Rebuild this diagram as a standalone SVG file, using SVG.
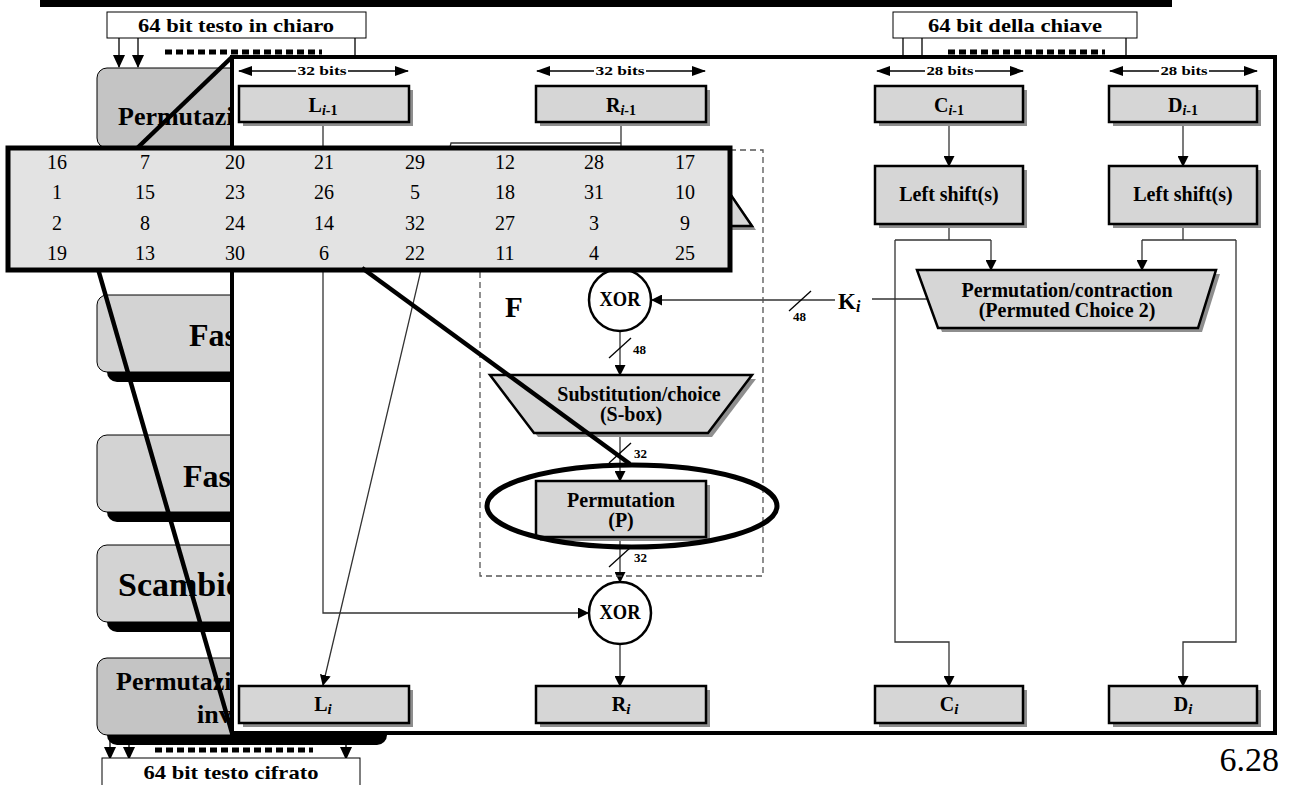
<svg xmlns="http://www.w3.org/2000/svg" width="1292" height="785" viewBox="0 0 1292 785">
<style>
 text{font-family:"Liberation Serif","Times New Roman",serif;fill:#000}
 .lbl{font-weight:bold;font-size:20px;text-anchor:middle}
 .big{font-weight:bold}
 .ln{stroke:#333;stroke-width:1.3;fill:none}
 .bk{stroke:#000;stroke-width:1.3;fill:none}
 .box{fill:#d6d6d6;stroke:#000;stroke-width:2.5}
 .shd{fill:#8e8e8e}
 .lb1{fill:#c4c4c4;stroke:#000;stroke-width:1}
 .lb2{fill:#d3d3d3;stroke:#000;stroke-width:1}
 .lsh{fill:#000}
 .thick{stroke:#000;stroke-width:4.5;fill:none}
 .dots{stroke:#000;stroke-width:5;stroke-dasharray:7,4;fill:none}
 .num{font-size:20px;text-anchor:middle}
 .io{fill:#fff;stroke:#000;stroke-width:1}
 .xor{fill:#fff;stroke:#000;stroke-width:2.5}
 .sm{font-weight:bold;font-size:13px}
</style>
<defs>
 <marker id="ah" markerWidth="11" markerHeight="11" refX="10" refY="5.5" orient="auto" markerUnits="userSpaceOnUse"><path d="M0,0 L11,5.5 L0,11 z" fill="#000"/></marker>
 <marker id="ahb" markerWidth="13" markerHeight="12" refX="12" refY="6" orient="auto" markerUnits="userSpaceOnUse"><path d="M0,0 L13,6 L0,12 z" fill="#000"/></marker>
 <marker id="ahw" markerWidth="14" markerHeight="10" refX="13" refY="5" orient="auto-start-reverse" markerUnits="userSpaceOnUse"><path d="M0,0 L14,5 L0,10 z" fill="#000"/></marker>
</defs>

<!-- top bar -->
<rect x="40" y="0" width="1132" height="7" fill="#000"/>

<!-- input/output boxes -->
<g id="plaintext">
 <rect class="io" x="107" y="12" width="259" height="26"/>
 <text x="236" y="32" class="big" font-size="19" text-anchor="middle" textLength="196" lengthAdjust="spacingAndGlyphs">64 bit testo in chiaro</text>
</g>
<g id="key">
 <rect class="io" x="893" y="12" width="244" height="26"/>
 <text x="1015" y="32" class="big" font-size="19" text-anchor="middle" textLength="174" lengthAdjust="spacingAndGlyphs">64 bit della chiave</text>
</g>

<!-- left column -->
<g id="ip">
 <rect class="lsh" x="107" y="78" width="280" height="80" rx="10"/>
 <rect class="lb1" x="97" y="68" width="280" height="80" rx="10"/>
 <text x="118" y="125" class="big" font-size="26">Permutazi</text>
</g>
<g id="fase1">
 <rect class="lsh" x="107" y="305" width="280" height="77" rx="10"/>
 <rect class="lb2" x="97" y="295" width="280" height="77" rx="10"/>
 <text x="189" y="346" class="big" font-size="32">Fas</text>
</g>
<g id="fase16">
 <rect class="lsh" x="107" y="445" width="280" height="77" rx="10"/>
 <rect class="lb2" x="97" y="435" width="280" height="77" rx="10"/>
 <text x="183" y="487" class="big" font-size="32">Fas</text>
</g>
<g id="scambio">
 <rect class="lsh" x="107" y="555" width="280" height="77" rx="10"/>
 <rect class="lb2" x="97" y="545" width="280" height="77" rx="10"/>
 <text x="118" y="596" class="big" font-size="34">Scambio</text>
</g>
<g id="ipinv">
 <rect class="lsh" x="107" y="668" width="280" height="77" rx="10"/>
 <rect class="lb1" x="97" y="658" width="280" height="77" rx="10"/>
 <text x="116" y="690" class="big" font-size="26">Permutazi</text>
 <text x="197" y="723" class="big" font-size="26">inv</text>
</g>

<g id="io-connectors">
 <line class="bk" x1="119" y1="38" x2="119" y2="67" marker-end="url(#ahb)"/>
 <line class="bk" x1="138" y1="38" x2="138" y2="67" marker-end="url(#ahb)"/>
 <line class="bk" x1="355" y1="38" x2="355" y2="67" marker-end="url(#ahb)"/>
 <line class="dots" x1="165" y1="52" x2="322" y2="52"/>
 <line class="bk" x1="903" y1="38" x2="903" y2="70"/>
 <line class="bk" x1="922" y1="38" x2="922" y2="70"/>
 <line class="bk" x1="1126" y1="38" x2="1126" y2="70"/>
 <line class="dots" x1="948" y1="52" x2="1105" y2="52"/>
 <line class="bk" x1="110" y1="735" x2="110" y2="759" marker-end="url(#ahb)"/>
 <line class="bk" x1="129" y1="735" x2="129" y2="759" marker-end="url(#ahb)"/>
 <line class="bk" x1="346" y1="735" x2="346" y2="759" marker-end="url(#ahb)"/>
 <line class="dots" x1="155" y1="750" x2="313" y2="750"/>
</g>
<g id="ciphertext">
 <rect class="io" x="102" y="758" width="258" height="30"/>
 <text x="231" y="779" class="big" font-size="19" text-anchor="middle" textLength="175" lengthAdjust="spacingAndGlyphs">64 bit testo cifrato</text>
</g>

<!-- round frame -->
<rect id="frame" x="232" y="57" width="1043" height="676" fill="#fff" stroke="#000" stroke-width="4"/>

<!-- width indicators -->
<g id="widths">
 <line class="bk" x1="239" y1="71" x2="296" y2="71" marker-start="url(#ahw)"/>
 <line class="bk" x1="348" y1="71" x2="408" y2="71" marker-end="url(#ahw)"/>
 <text x="322" y="75" class="sm" text-anchor="middle" textLength="49" lengthAdjust="spacingAndGlyphs">32 bits</text>
 <line class="bk" x1="537" y1="71" x2="594" y2="71" marker-start="url(#ahw)"/>
 <line class="bk" x1="646" y1="71" x2="705" y2="71" marker-end="url(#ahw)"/>
 <text x="620" y="75" class="sm" text-anchor="middle" textLength="49" lengthAdjust="spacingAndGlyphs">32 bits</text>
 <line class="bk" x1="877" y1="71" x2="925" y2="71" marker-start="url(#ahw)"/>
 <line class="bk" x1="975" y1="71" x2="1023" y2="71" marker-end="url(#ahw)"/>
 <text x="950" y="75" class="sm" text-anchor="middle" textLength="47" lengthAdjust="spacingAndGlyphs">28 bits</text>
 <line class="bk" x1="1110" y1="71" x2="1159" y2="71" marker-start="url(#ahw)"/>
 <line class="bk" x1="1209" y1="71" x2="1257" y2="71" marker-end="url(#ahw)"/>
 <text x="1184" y="75" class="sm" text-anchor="middle" textLength="47" lengthAdjust="spacingAndGlyphs">28 bits</text>
</g>

<!-- connectors inside the round -->
<g id="connectors">
 <polyline class="ln" points="323,122 323,613 588,613" marker-end="url(#ah)"/>
 <line class="ln" x1="621" y1="122" x2="621" y2="160"/>
 <polyline class="ln" points="621,143 451,143 323,685" marker-end="url(#ah)"/>
 <line class="ln" x1="620" y1="226" x2="620" y2="268" marker-end="url(#ah)"/>
 <line class="ln" x1="620" y1="331" x2="620" y2="375" marker-end="url(#ah)"/>
 <line class="bk" x1="609" y1="358" x2="631" y2="338"/>
 <line class="ln" x1="620" y1="433" x2="620" y2="481" marker-end="url(#ah)"/>
 <line class="bk" x1="609" y1="463" x2="631" y2="443"/>
 <line class="ln" x1="620" y1="537" x2="620" y2="582" marker-end="url(#ah)"/>
 <line class="bk" x1="609" y1="567" x2="631" y2="547"/>
 <line class="ln" x1="620" y1="644" x2="620" y2="686" marker-end="url(#ah)"/>
 <line class="ln" x1="949" y1="122" x2="949" y2="166" marker-end="url(#ah)"/>
 <line class="ln" x1="1183" y1="122" x2="1183" y2="166" marker-end="url(#ah)"/>
 <line class="ln" x1="949" y1="224" x2="949" y2="240"/>
 <line class="ln" x1="895" y1="240" x2="991" y2="240"/>
 <line class="ln" x1="991" y1="240" x2="991" y2="270" marker-end="url(#ah)"/>
 <polyline class="ln" points="895,240 895,642 949,642 949,686" marker-end="url(#ah)"/>
 <line class="ln" x1="1183" y1="224" x2="1183" y2="240"/>
 <line class="ln" x1="1142" y1="240" x2="1236" y2="240"/>
 <line class="ln" x1="1142" y1="240" x2="1142" y2="270" marker-end="url(#ah)"/>
 <polyline class="ln" points="1236,240 1236,642 1183,642 1183,686" marker-end="url(#ah)"/>
 <line class="ln" x1="927" y1="299" x2="872" y2="299"/>
 <line class="ln" x1="835" y1="300" x2="652" y2="300" marker-end="url(#ah)"/>
 <line class="bk" x1="789" y1="311" x2="811" y2="291"/>
</g>

<!-- F box -->
<g id="F">
 <rect x="480" y="150" width="283" height="426" fill="none" stroke="#555" stroke-width="1.3" stroke-dasharray="6,4"/>
 <text x="505" y="317" class="big" font-size="29">F</text>
</g>
<g id="expansion">
 <polygon class="shd" points="537,164 711,164 756,230 492,230"/>
 <polygon class="box" points="533,160 707,160 752,226 488,226"/>
</g>
<g id="xor1">
 <circle class="xor" cx="620" cy="300" r="31"/>
 <text x="620" y="306" class="lbl" font-size="16" textLength="41" lengthAdjust="spacingAndGlyphs">XOR</text>
</g>
<g id="sbox">
 <polygon class="shd" points="494,379 756,379 712,437 538,437"/>
 <polygon class="box" points="490,375 752,375 708,433 534,433"/>
 <text x="639" y="401" class="lbl">Substitution/choice</text>
 <text x="631" y="421" class="lbl">(S-box)</text>
</g>
<g id="perm">
 <rect class="shd" x="540" y="485" width="170" height="56"/>
 <rect class="box" x="536" y="481" width="170" height="56"/>
 <text x="621" y="507" class="lbl">Permutation</text>
 <text x="621" y="527" class="lbl">(P)</text>
</g>
<g id="xor2">
 <circle class="xor" cx="620" cy="613" r="31"/>
 <text x="620" y="619" class="lbl" font-size="16" textLength="41" lengthAdjust="spacingAndGlyphs">XOR</text>
</g>
<g id="labels">
 <text x="633" y="354" class="sm">48</text>
 <text x="634" y="458" class="sm">32</text>
 <text x="634" y="562" class="sm">32</text>
 <text x="793" y="321" class="sm">48</text>
 <text x="838" y="309" class="big" font-size="23">K<tspan font-size="16" font-style="italic" dy="3">i</tspan></text>
</g>

<!-- registers -->
<g id="Lprev">
 <rect class="shd" x="243" y="90" width="170" height="36"/>
 <rect class="box" x="239" y="86" width="170" height="36"/>
 <text x="323" y="112" class="lbl" font-size="18">L<tspan font-size="14" font-style="italic" dy="3">i</tspan><tspan font-size="14">-1</tspan></text>
</g>
<g id="Rprev">
 <rect class="shd" x="540" y="90" width="170" height="36"/>
 <rect class="box" x="536" y="86" width="170" height="36"/>
 <text x="621" y="112" class="lbl" font-size="18">R<tspan font-size="14" font-style="italic" dy="3">i</tspan><tspan font-size="14">-1</tspan></text>
</g>
<g id="Cprev">
 <rect class="shd" x="879" y="90" width="148" height="36"/>
 <rect class="box" x="875" y="86" width="148" height="36"/>
 <text x="949" y="112" class="lbl" font-size="18">C<tspan font-size="14" font-style="italic" dy="3">i</tspan><tspan font-size="14">-1</tspan></text>
</g>
<g id="Dprev">
 <rect class="shd" x="1113" y="90" width="148" height="36"/>
 <rect class="box" x="1109" y="86" width="148" height="36"/>
 <text x="1183" y="112" class="lbl" font-size="18">D<tspan font-size="14" font-style="italic" dy="3">i</tspan><tspan font-size="14">-1</tspan></text>
</g>
<g id="lsC">
 <rect class="shd" x="879" y="170" width="148" height="58"/>
 <rect class="box" x="875" y="166" width="148" height="58"/>
 <text x="949" y="201" class="lbl">Left shift(s)</text>
</g>
<g id="lsD">
 <rect class="shd" x="1113" y="170" width="148" height="58"/>
 <rect class="box" x="1109" y="166" width="148" height="58"/>
 <text x="1183" y="201" class="lbl">Left shift(s)</text>
</g>
<g id="pc2">
 <polygon class="shd" points="921,274 1220,274 1202,332 942,332"/>
 <polygon class="box" points="917,270 1216,270 1198,328 938,328"/>
 <text x="1067" y="297" class="lbl">Permutation/contraction</text>
 <text x="1067" y="317" class="lbl">(Permuted Choice 2)</text>
</g>
<g id="Li">
 <rect class="shd" x="243" y="690" width="170" height="37"/>
 <rect class="box" x="239" y="686" width="170" height="37"/>
 <text x="323" y="711" class="lbl" font-size="18">L<tspan font-size="15" font-style="italic" dy="3">i</tspan></text>
</g>
<g id="Ri">
 <rect class="shd" x="540" y="690" width="170" height="37"/>
 <rect class="box" x="536" y="686" width="170" height="37"/>
 <text x="621" y="711" class="lbl" font-size="18">R<tspan font-size="15" font-style="italic" dy="3">i</tspan></text>
</g>
<g id="Ci">
 <rect class="shd" x="879" y="690" width="148" height="37"/>
 <rect class="box" x="875" y="686" width="148" height="37"/>
 <text x="949" y="711" class="lbl" font-size="18">C<tspan font-size="15" font-style="italic" dy="3">i</tspan></text>
</g>
<g id="Di">
 <rect class="shd" x="1113" y="690" width="148" height="37"/>
 <rect class="box" x="1109" y="686" width="148" height="37"/>
 <text x="1183" y="711" class="lbl" font-size="18">D<tspan font-size="15" font-style="italic" dy="3">i</tspan></text>
</g>

<!-- magnification lines and P table -->
<g id="zoom-lines">
 <line class="thick" x1="232" y1="57" x2="130" y2="155"/>
 <line class="thick" x1="96" y1="262" x2="232" y2="733"/>
</g>
<g id="ptable">
 <rect x="8" y="148" width="722" height="122" fill="#e3e3e3" stroke="#000" stroke-width="5"/>
 <g class="num">
  <text x="57" y="169">16</text><text x="145" y="169">7</text><text x="235" y="169">20</text><text x="324" y="169">21</text><text x="415" y="169">29</text><text x="505" y="169">12</text><text x="594" y="169">28</text><text x="685" y="169">17</text>
  <text x="57" y="199">1</text><text x="145" y="199">15</text><text x="235" y="199">23</text><text x="324" y="199">26</text><text x="415" y="199">5</text><text x="505" y="199">18</text><text x="594" y="199">31</text><text x="685" y="199">10</text>
  <text x="57" y="230">2</text><text x="145" y="230">8</text><text x="235" y="230">24</text><text x="324" y="230">14</text><text x="415" y="230">32</text><text x="505" y="230">27</text><text x="594" y="230">3</text><text x="685" y="230">9</text>
  <text x="57" y="260">19</text><text x="145" y="260">13</text><text x="235" y="260">30</text><text x="324" y="260">6</text><text x="415" y="260">22</text><text x="505" y="260">11</text><text x="594" y="260">4</text><text x="685" y="260">25</text>
 </g>
</g>
<g id="focus">
 <line class="thick" x1="362" y1="268" x2="630" y2="464"/>
 <ellipse cx="632" cy="506" rx="145" ry="41" fill="none" stroke="#000" stroke-width="5"/>
</g>

<text x="1279" y="771" font-size="34" text-anchor="end">6.28</text>
</svg>
